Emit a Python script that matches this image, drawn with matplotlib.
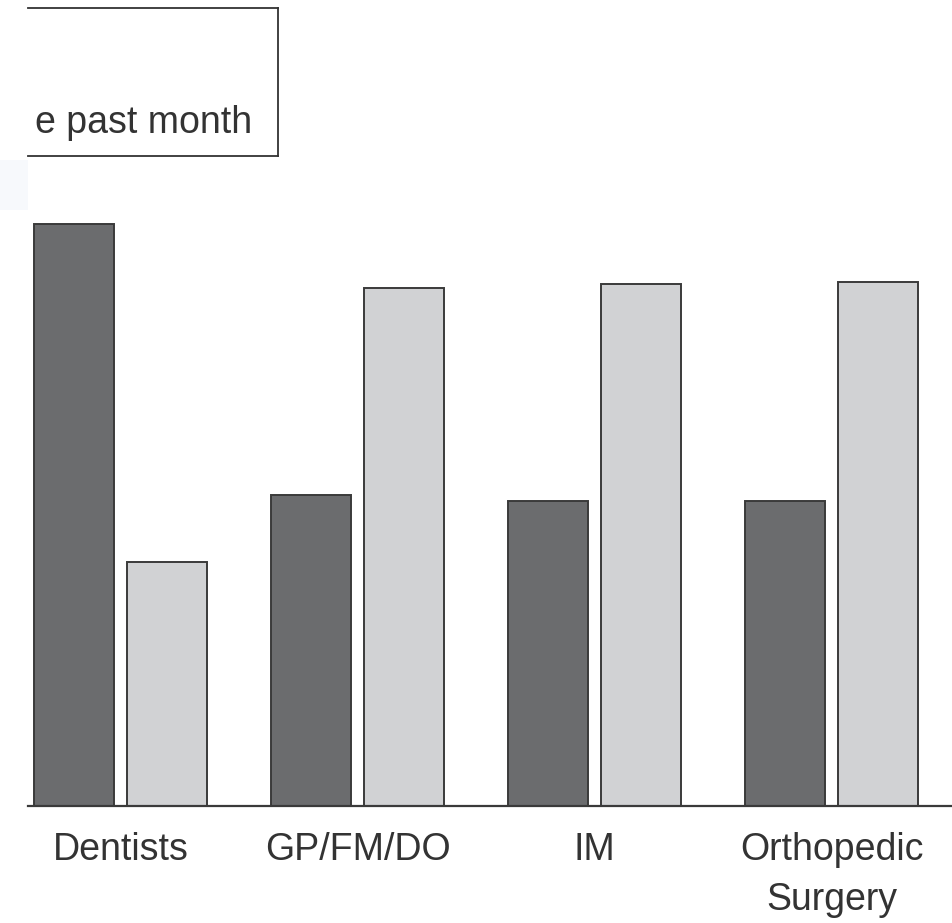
import matplotlib.pyplot as plt
from matplotlib.lines import Line2D
from matplotlib.patches import Rectangle

# dane (jednostki względne, brak osi Y)
kategorie = ["Dentists", "GP/FM/DO", "IM", "Orthopedic\nSurgery"]
seria_ciemna = [58.2, 31.1, 30.5, 30.5]
seria_jasna = [24.4, 51.8, 52.2, 52.4]
tekst_legendy = "e past month"

plt.rcParams["font.family"] = ["Liberation Sans", "DejaVu Sans"]

W, H = 952, 923
fig = plt.figure(figsize=(W / 100, H / 100), dpi=100)
ax = fig.add_axes([28 / W, (H - 806) / H, (W - 28) / W, 806 / H])

szer = 0.338
przes = 0.196
x = list(range(len(kategorie)))
ax.bar([i - przes for i in x], seria_ciemna, width=szer, color="#6b6c6e",
       edgecolor="#3a3a3a", linewidth=1.4)
ax.bar([i + przes for i in x], seria_jasna, width=szer, color="#d1d2d4",
       edgecolor="#3a3a3a", linewidth=1.4)

ax.set_xlim((28 - 120.5) / 237, (952 - 120.5) / 237)
ax.set_ylim(0, 80.6)
ax.set_xticks(x)
ax.set_xticklabels(kategorie, fontsize=27, color="#333333", linespacing=1.48)
ax.tick_params(axis="x", length=0, pad=19)
ax.set_yticks([])
for s in ["left", "right", "top"]:
    ax.spines[s].set_visible(False)
ax.spines["bottom"].set_color("#3a3a3a")
ax.spines["bottom"].set_linewidth(1.6)

# fragment ramki legendy (ucięty z lewej)
gora, dol, prawo = (H - 8) / H, (H - 156) / H, 278 / W
lewo = 28 / W
for xs, ys in [([lewo, prawo], [gora, gora]), ([lewo, prawo], [dol, dol]),
               ([prawo, prawo], [dol, gora])]:
    fig.add_artist(Line2D(xs, ys, transform=fig.transFigure,
                          color="#333333", linewidth=1.3))
t = fig.text(252 / W, (H - 133) / H, tekst_legendy, ha="right", va="baseline",
             fontsize=27, color="#333333")
t.set_clip_path(Rectangle((28, 0), W, H, transform=None))
fig.patches.append(Rectangle((0, (H - 210) / H), 28 / W, 50 / H,
                             transform=fig.transFigure, color="#f7f9fc",
                             linewidth=0))

fig.savefig("out.png", dpi=100)
